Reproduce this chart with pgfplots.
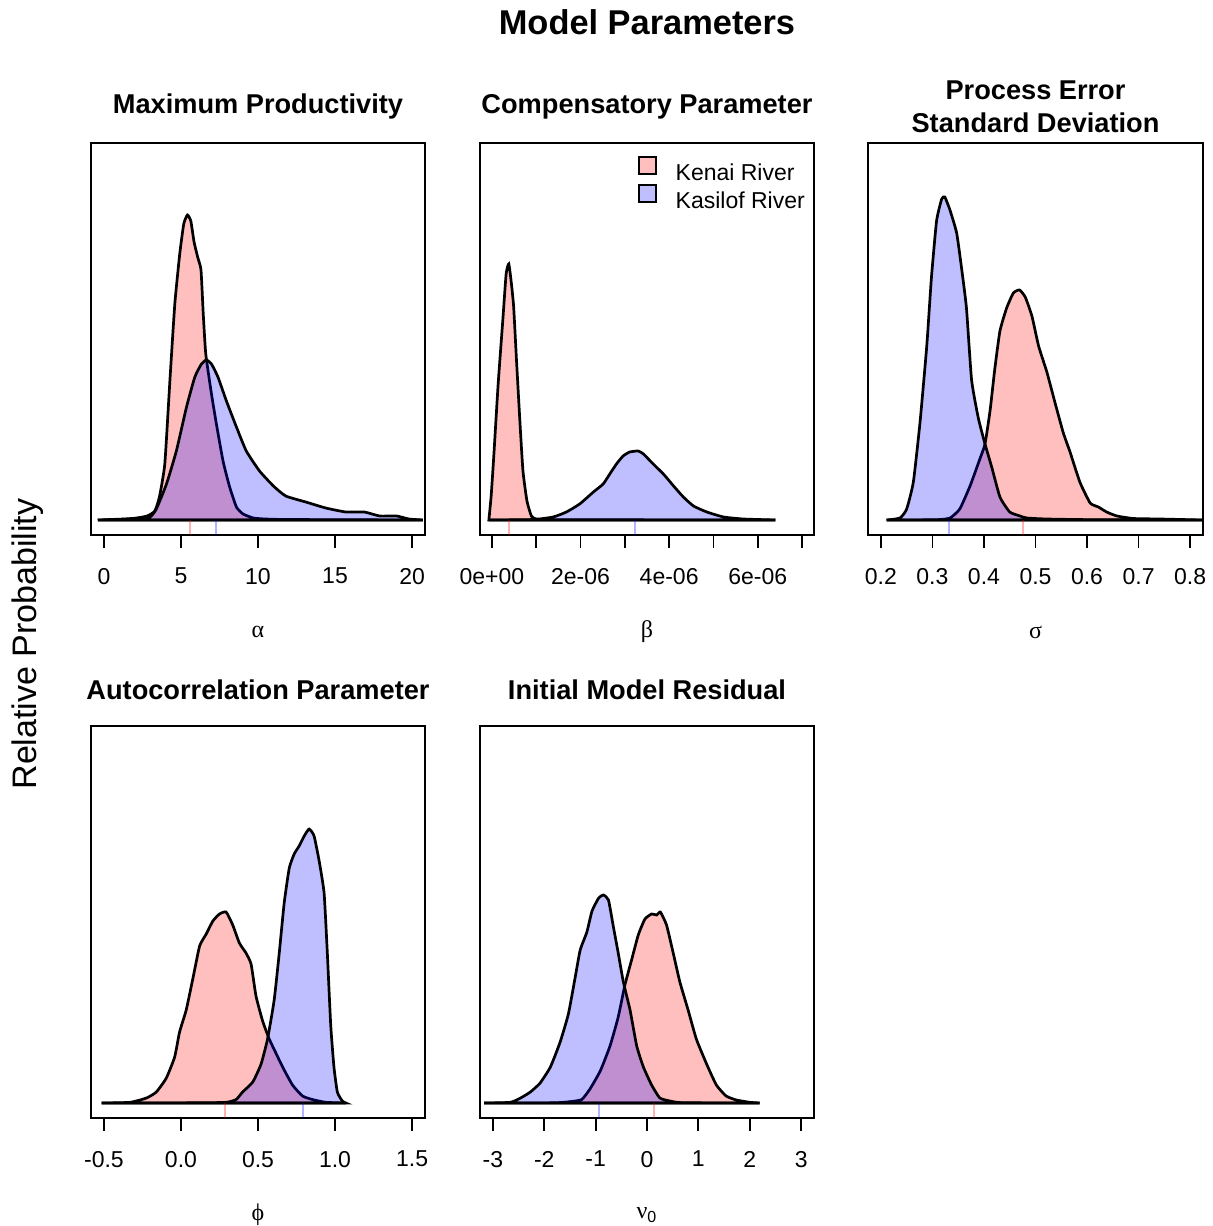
\documentclass[border=0pt]{standalone}
\usepackage{pgfplots}
\pgfplotsset{compat=1.18}
\usepackage{fontspec}
\setmainfont{Liberation Sans}
\newfontfamily\grk{Liberation Serif}

\definecolor{kenai}{rgb}{1,0,0}
\definecolor{kasilof}{rgb}{0,0,1}

\pgfplotsset{
  dens/.style={
    width=167pt, height=196pt, scale only axis,
    ymin=-15, ymax=377, ytick=\empty,
    axis line style={line width=0.9pt},
    tick align=outside, xtick pos=bottom,
    major tick length=6.5pt,
    every tick/.style={black, line width=0.9pt},
    xticklabel style={font=\fontsize{11.5}{13}\selectfont, yshift=-6.5pt},
    title style={font=\bfseries\fontsize{13.6}{16.4}\selectfont,
      at={(axis description cs:0.5,1)}, anchor=center, yshift=12.3pt, align=center},
    xlabel style={font=\fontsize{12}{14}\selectfont,
      at={(axis description cs:0.5,0)}, anchor=center, yshift=-48.5pt},
  },
  kenai/.style={draw=black, line width=1.35pt, fill=kenai, fill opacity=0.25,
    smooth, tension=0.3, mark=none},
  kasilof/.style={draw=black, line width=1.35pt, fill=kasilof, fill opacity=0.25,
    smooth, tension=0.3, mark=none},
  medk/.style={forget plot, draw=kenai, draw opacity=0.3, line width=1pt, mark=none},
  medb/.style={forget plot, draw=kasilof, draw opacity=0.3, line width=1pt, mark=none},
}

\begin{document}
\begin{tikzpicture}
\useasboundingbox (0,0) rectangle (606.5pt,-613pt);

\node[font=\bfseries\fontsize{17.2}{20}\selectfont] at (323.5pt,-11pt) {Model Parameters};
\node[rotate=90, font=\fontsize{17}{20}\selectfont] at (14pt,-322pt) {Relative Probability};

% alpha
\begin{axis}[dens, at={(45.5pt,-71.5pt)}, anchor=north west,
  xmin=-0.84, xmax=20.84, xtick={0,5,10,15,20}, xticklabels={0,5,10,15,20},
  title={Maximum Productivity}, xlabel={\grk α}]
\addplot[kenai] coordinates {(-0.4,0) (1.7,1) (2.8,4) (3.3,9) (3.6,23) (3.95,56) (4.28,139) (4.6,216) (4.92,266) (5.18,296) (5.42,305) (5.64,299) (5.85,278) (6.1,262) (6.3,250) (6.45,205) (6.61,166) (6.98,126) (7.3,96) (7.73,59) (8.16,33) (8.6,13) (9.03,6) (9.7,2) (10.5,1) (12,0.5) (20.7,0)} \closedcycle;
\addplot[kasilof] coordinates {(-0.4,0) (1.25,1) (2.3,2) (3.0,3) (3.4,11) (4.06,36) (4.7,69) (5.36,113) (5.9,143) (6.33,156) (6.65,160) (6.98,156) (7.4,143) (7.95,119) (8.6,93) (9.24,69) (10.1,49) (11,34) (11.8,24) (13.1,18) (14.4,12) (15.7,8) (16.9,8) (17.9,4) (19.0,4) (19.8,1) (20.7,0)} \closedcycle;
\addplot[medk] coordinates {(5.57,-15) (5.57,0)};
\addplot[medb] coordinates {(7.26,-15) (7.26,0)};
\end{axis}

% beta
\begin{axis}[dens, at={(240pt,-71.5pt)}, anchor=north west,
  xmin=-0.27, xmax=7.27, xtick={0,1,2,3,4,5,6,7},
  xticklabels={0e+00,,2e-06,,4e-06,,6e-06,},
  title={Compensatory Parameter}, xlabel={\grk β},
  legend style={at={(rel axis cs:0.453,0.978)}, anchor=north west, draw=none, fill=none,
    font=\fontsize{11.5}{13}\selectfont, row sep=-0.5pt, column sep=8.5pt,
    nodes={inner sep=1pt}},
  legend cell align=left,
  legend image code/.code={\draw[#1, draw=black, line width=1pt] (0pt,-0.2pt) rectangle (8.5pt,8.3pt);}]
\addplot[kenai] coordinates {(-0.07,0) (-0.02,23) (0.04,63) (0.14,136) (0.25,203) (0.32,246) (0.38,256) (0.44,236) (0.49,213) (0.55,163) (0.63,99) (0.7,49) (0.79,19) (0.89,4) (1.0,1) (1.46,0.3) (6.4,0)} \closedcycle;
\addplot[kasilof] coordinates {(-0.07,0) (0.93,0.5) (1.38,3) (1.68,8) (1.98,16) (2.29,28) (2.51,36) (2.66,46) (2.81,56) (2.96,64) (3.11,68) (3.3,69) (3.42,66) (3.64,56) (3.87,46) (4.1,34) (4.32,23) (4.55,14) (4.85,8) (5.23,3) (5.68,1) (6.4,0)} \closedcycle;
\addplot[medk] coordinates {(0.38,-15) (0.38,0)};
\addplot[medb] coordinates {(3.23,-15) (3.23,0)};
\legend{Kenai River, Kasilof River}
\end{axis}

% sigma
\begin{axis}[dens, at={(434pt,-71.5pt)}, anchor=north west, width=167.5pt,
  xmin=0.175, xmax=0.825, xtick={0.2,0.3,0.4,0.5,0.6,0.7,0.8},
  xticklabels={0.2,0.3,0.4,0.5,0.6,0.7,0.8},
  title={Process Error\\Standard Deviation}, xlabel={\grk σ}]
\addplot[kenai] coordinates {(0.211,0) (0.308,0.3) (0.334,2) (0.353,11) (0.373,34) (0.392,61) (0.402,76) (0.412,110) (0.421,151) (0.431,189) (0.444,212) (0.457,227) (0.469,230) (0.48,223) (0.493,204) (0.506,174) (0.522,148) (0.538,117) (0.554,87) (0.567,68) (0.586,38) (0.606,17) (0.622,13) (0.638,8) (0.658,4) (0.69,1.5) (0.742,1) (0.823,0)} \closedcycle;
\addplot[kasilof] coordinates {(0.211,0) (0.237,2) (0.25,11) (0.263,38) (0.276,98) (0.289,174) (0.298,242) (0.308,299) (0.318,321) (0.324,323) (0.334,310) (0.347,287) (0.357,250) (0.366,212) (0.376,140) (0.389,102) (0.402,76) (0.415,53) (0.431,23) (0.45,8) (0.47,4) (0.483,2) (0.522,1) (0.612,0.3) (0.823,0)} \closedcycle;
\addplot[medb] coordinates {(0.333,-15) (0.333,0)};
\addplot[medk] coordinates {(0.476,-15) (0.476,0)};
\end{axis}

% phi
\begin{axis}[dens, at={(45.5pt,-363pt)}, anchor=north west,
  xmin=-0.584, xmax=1.584, xtick={-0.5,0,0.5,1,1.5},
  xticklabels={-0.5,0.0,0.5,1.0,1.5},
  title={Autocorrelation Parameter}, xlabel={\grk ϕ}]
\addplot[kenai] coordinates {(-0.515,0) (-0.33,0.7) (-0.224,5) (-0.16,11) (-0.095,25) (-0.041,46) (-0.009,71) (0.034,93) (0.078,125) (0.121,157) (0.164,169) (0.207,182) (0.25,189) (0.293,191) (0.336,178) (0.379,160) (0.422,150) (0.455,139) (0.487,107) (0.53,82) (0.573,64) (0.616,50) (0.66,36) (0.724,18) (0.789,7) (0.853,3.5) (0.94,0.7) (1.07,0)} \closedcycle;
\addplot[kasilof] coordinates {(-0.515,0) (0.1,0.2) (0.293,0.7) (0.358,3.5) (0.4,11) (0.466,21) (0.52,39) (0.562,64) (0.605,103) (0.638,150) (0.67,200) (0.703,235) (0.735,249) (0.767,257) (0.8,267) (0.832,274) (0.864,267) (0.897,242) (0.929,210) (0.95,150) (0.972,78) (0.993,36) (1.015,11) (1.047,2) (1.07,0)} \closedcycle;
\addplot[medk] coordinates {(0.287,-15) (0.287,0)};
\addplot[medb] coordinates {(0.789,-15) (0.789,0)};
\end{axis}

% nu0
\begin{axis}[dens, at={(240pt,-363pt)}, anchor=north west,
  xmin=-3.25, xmax=3.25, xtick={-3,-2,-1,0,1,2,3},
  xticklabels={-3,-2,-1,0,1,2,3},
  title={Initial Model Residual}, xlabel={{\grk ν}\textsubscript{0}}]
\addplot[kenai] coordinates {(-3.17,0) (-1.82,0.2) (-1.49,1.4) (-1.27,3.5) (-1.11,14) (-0.91,32) (-0.72,57) (-0.56,86) (-0.43,118) (-0.3,143) (-0.17,168) (-0.04,184) (0.09,189) (0.19,188) (0.26,191) (0.38,178) (0.51,150) (0.64,121) (0.8,93) (0.96,64) (1.16,39) (1.35,18) (1.54,7) (1.74,3) (2.0,0.7) (2.19,0)} \closedcycle;
\addplot[kasilof] coordinates {(-3.17,0) (-2.66,0.7) (-2.46,5) (-2.27,11) (-2.08,20) (-1.88,36) (-1.69,61) (-1.53,89) (-1.4,125) (-1.3,153) (-1.17,171) (-1.07,192) (-0.94,205) (-0.85,208) (-0.75,203) (-0.65,175) (-0.56,150) (-0.46,121) (-0.33,93) (-0.2,57) (-0.07,36) (0.09,18) (0.25,5) (0.45,2) (0.7,0.3) (2.19,0)} \closedcycle;
\addplot[medb] coordinates {(-0.94,-15) (-0.94,0)};
\addplot[medk] coordinates {(0.14,-15) (0.14,0)};
\end{axis}
\end{tikzpicture}
\end{document}
